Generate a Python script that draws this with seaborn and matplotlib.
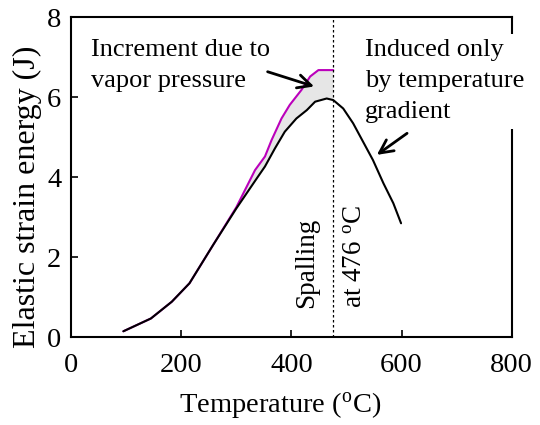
import numpy as np
import matplotlib
matplotlib.use("Agg")
import matplotlib.pyplot as plt
import seaborn as sns
import pandas as pd

# Elastic strain energy vs temperature
temp_total = [95, 145, 183, 215, 258, 300, 334, 352, 364, 382, 397, 418, 434, 449, 476]
energy_total = [0.15, 0.47, 0.89, 1.35, 2.31, 3.25, 4.18, 4.52, 4.93, 5.47, 5.81, 6.18, 6.52, 6.68, 6.68]

temp_gradient = [95, 145, 183, 215, 258, 300, 337, 352, 370, 388, 409, 428, 443, 464,
                 476, 494, 512, 530, 548, 567, 585, 599]
energy_gradient = [0.15, 0.47, 0.89, 1.35, 2.31, 3.22, 3.97, 4.27, 4.72, 5.14, 5.47, 5.68,
                   5.89, 5.97, 5.93, 5.72, 5.35, 4.89, 4.43, 3.85, 3.35, 2.85]

spalling_temp = 476
x_ticks = [0, 200, 400, 600, 800]
y_ticks = [0, 2, 4, 6, 8]

sns.set_style("ticks", {"text.color": "black", "axes.labelcolor": "black",
                        "xtick.color": "black", "ytick.color": "black",
                        "axes.edgecolor": "black"})
plt.rcParams["font.family"] = ["Liberation Serif", "DejaVu Serif"]
plt.rcParams["mathtext.fontset"] = "stix"

fig = plt.figure(figsize=(5.4, 4.25), dpi=100)
ax = fig.add_axes([0.1315, 0.2064, 0.8163, 0.7529])

df_total = pd.DataFrame({"T": temp_total, "E": energy_total})
df_grad = pd.DataFrame({"T": temp_gradient, "E": energy_gradient})

# shaded increment between the two curves
start = 300
xt = np.array(temp_total)
yt = np.array(energy_total)
xg = np.array(temp_gradient)
yg = np.array(energy_gradient)
mt = xt >= start
mg = (xg >= start) & (xg <= spalling_temp)
poly_x = np.concatenate([xt[mt], xg[mg][::-1]])
poly_y = np.concatenate([yt[mt], yg[mg][::-1]])
ax.fill(poly_x, poly_y, color="#e6e6e6", lw=0, zorder=1)

sns.lineplot(data=df_grad, x="T", y="E", color="black", lw=1.5, ax=ax, zorder=3)
sns.lineplot(data=df_total, x="T", y="E", color="#bb00bb", lw=1.5, ax=ax, zorder=2)

ax.axvline(spalling_temp, color="black", lw=0.9, ls=(0, (2, 2)), zorder=2)

ax.set_xlim(0, 800)
ax.set_ylim(0, 8)
ax.set_xticks(x_ticks)
ax.set_yticks(y_ticks)
ax.tick_params(direction="in", length=5, width=1.2, labelsize=20.5,
               color="black", labelcolor="black")
ax.tick_params(axis="x", pad=11)
ax.tick_params(axis="y", pad=7)
for s in ax.spines.values():
    s.set_linewidth(1.5)
    s.set_color("black")
    s.set_visible(True)

ax.set_xlabel("Temperature ($\\mathregular{^o}$C)", fontsize=20.5, color="black")
ax.xaxis.set_label_coords(0.474, -0.165)
ax.set_ylabel("Elastic strain energy (J)", fontsize=23, color="black")
ax.yaxis.set_label_coords(-0.066, 0.44)

ax.text(37, 7.45, "Increment due to\nvapor pressure", fontsize=19, va="top", ha="left",
        linespacing=1.52, zorder=5, color="black")
ax.text(534, 7.45, "Induced only\nby temperature\ngradient", fontsize=19, va="top", ha="left",
        linespacing=1.52, zorder=5, clip_on=False, color="black",
        bbox=dict(facecolor="white", edgecolor="none", pad=4))

ax.text(428, 0.72, "Spalling", fontsize=19.5, rotation=90, ha="center", va="bottom",
        color="black")
ax.text(516, 0.72, "at 476 $\\mathregular{^o}$C", fontsize=19.5, rotation=90,
        ha="center", va="bottom", color="black")

arrow = dict(arrowstyle="->", color="black", lw=2, mutation_scale=24)
ax.annotate("", xy=(446, 6.25), xytext=(352, 6.66), arrowprops=arrow, zorder=6)
ax.annotate("", xy=(551, 4.52), xytext=(614, 5.14), arrowprops=arrow, zorder=6)

fig.savefig("out.png", dpi=100)
